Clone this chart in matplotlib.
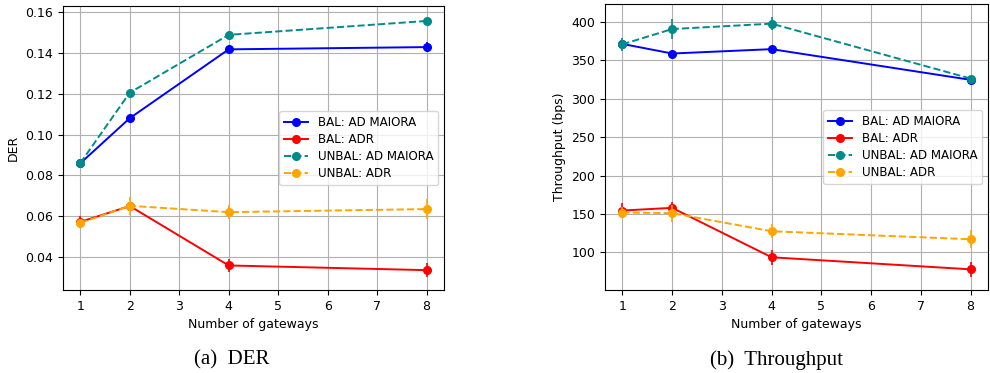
import numpy as np
import matplotlib
matplotlib.use("Agg")
import matplotlib.pyplot as plt

gateways = [1, 2, 4, 8]

# DER
der_bal_maiora = [0.0859, 0.1080, 0.1417, 0.1428]
der_bal_maiora_err = [0.0010, 0.0010, 0.0010, 0.0025]
der_bal_adr = [0.0572, 0.0650, 0.0359, 0.0336]
der_bal_adr_err = [0.0030, 0.0020, 0.0030, 0.0034]
der_unbal_maiora = [0.0860, 0.1205, 0.1488, 0.1556]
der_unbal_maiora_err = [0.0010, 0.0012, 0.0012, 0.0010]
der_unbal_adr = [0.0567, 0.0651, 0.0620, 0.0635]
der_unbal_adr_err = [0.0020, 0.0043, 0.0033, 0.0050]

# Throughput (bps)
thr_bal_maiora = [371.5, 359.0, 364.7, 324.7]
thr_bal_maiora_err = [5.0, 3.0, 3.0, 4.0]
thr_bal_adr = [154.4, 157.9, 93.5, 77.8]
thr_bal_adr_err = [10.0, 8.0, 10.0, 10.0]
thr_unbal_maiora = [371.0, 390.9, 397.9, 326.4]
thr_unbal_maiora_err = [8.7, 13.0, 8.7, 3.0]
thr_unbal_adr = [151.8, 151.0, 127.4, 117.0]
thr_unbal_adr_err = [7.0, 11.0, 9.0, 12.0]

labels = ["BAL: AD MAIORA", "BAL: ADR", "UNBAL: AD MAIORA", "UNBAL: ADR"]
colors = ["blue", "red", "darkcyan", "orange"]
styles = ["-", "-", "--", "--"]

plt.rcParams['font.family'] = ['DejaVu Sans']

fig = plt.figure(figsize=(9.9, 3.73), dpi=100)
ax1 = fig.add_axes([0.0636, 0.2225, 0.3848, 0.7614])
ax2 = fig.add_axes([0.6111, 0.2225, 0.3869, 0.7668])


def draw(ax, series, ylabel):
    for (vals, errs), lab, c, ls in zip(series, labels, colors, styles):
        ax.errorbar(gateways, vals, yerr=errs, color=c, linestyle='none',
                    elinewidth=1.2)
        ax.plot(gateways, vals, color=c, linestyle=ls, marker='o',
                markersize=5.5, linewidth=1.4, label=lab)
    ax.grid(True, color='#b0b0b0', linewidth=0.8)
    ax.set_xticks(range(1, 9))
    ax.tick_params(labelsize=9)
    ax.set_xlabel("Number of gateways", fontsize=9)
    ax.set_ylabel(ylabel, fontsize=9)
    ax.legend(loc='center right', fontsize=8.6, labelspacing=0.35)


draw(ax1, [(der_bal_maiora, der_bal_maiora_err), (der_bal_adr, der_bal_adr_err),
           (der_unbal_maiora, der_unbal_maiora_err), (der_unbal_adr, der_unbal_adr_err)],
     "DER")
ax1.set_yticks([0.04, 0.06, 0.08, 0.10, 0.12, 0.14, 0.16])

draw(ax2, [(thr_bal_maiora, thr_bal_maiora_err), (thr_bal_adr, thr_bal_adr_err),
           (thr_unbal_maiora, thr_unbal_maiora_err), (thr_unbal_adr, thr_unbal_adr_err)],
     "Throughput (bps)")

fig.text(232 / 990, 1 - 360 / 373, "(a)  DER", ha='center', va='center',
         fontsize=15, family='Liberation Serif')
fig.text(776 / 990, 1 - 360 / 373, "(b)  Throughput", ha='center', va='center',
         fontsize=15, family='Liberation Serif')

fig.savefig("out.png", dpi=100)
